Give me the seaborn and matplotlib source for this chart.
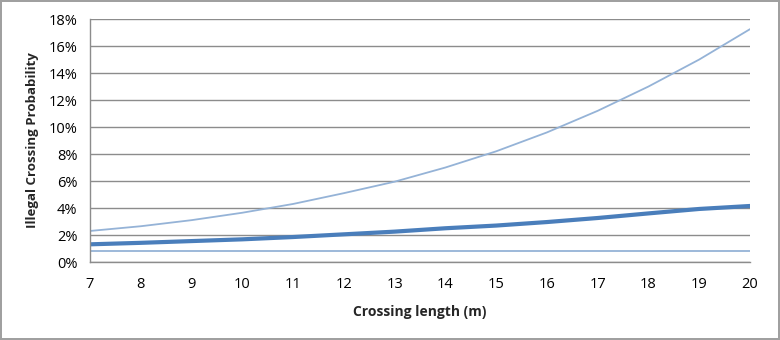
import matplotlib
matplotlib.use('Agg')
import matplotlib.pyplot as plt
import seaborn as sns
import pandas as pd
from matplotlib.ticker import FuncFormatter

# crossing length (m)
length = [7, 8, 9, 10, 11, 12, 13, 14, 15, 16, 17, 18, 19, 20]
# illegal crossing probability (%)
upper = [2.3, 2.65, 3.1, 3.65, 4.3, 5.1, 5.95, 7.0, 8.2, 9.6, 11.2, 13.0, 15.0, 17.25]
mean = [1.31, 1.42, 1.55, 1.68, 1.85, 2.05, 2.25, 2.5, 2.7, 2.96, 3.26, 3.6, 3.93, 4.15]
lower = [0.78, 0.78, 0.78, 0.78, 0.78, 0.78, 0.78, 0.78, 0.78, 0.78, 0.78, 0.78, 0.78, 0.78]

df = pd.DataFrame({'length': length, 'upper': upper, 'mean': mean, 'lower': lower})

sns.set_style('white')
plt.rcParams['font.family'] = ['Open Sans', 'DejaVu Sans']

fig = plt.figure(figsize=(7.8, 3.4), dpi=100)
fig.patch.set_edgecolor('#a0a0a0')
fig.patch.set_linewidth(1.5)
ax = fig.add_axes([0.1154, 0.2294, 0.8461, 0.7146])

sns.lineplot(data=df, x='length', y='upper', ax=ax, color='#95b3d7', linewidth=1.3)
sns.lineplot(data=df, x='length', y='lower', ax=ax, color='#95b3d7', linewidth=1.3)
sns.lineplot(data=df, x='length', y='mean', ax=ax, color='#4a7ebb', linewidth=3)

ax.set_xlim(7, 20)
ax.set_ylim(0, 18)
ax.set_xticks(length)
ax.set_yticks(range(0, 19, 2))
ax.yaxis.set_major_formatter(FuncFormatter(lambda v, p: f'{v:.0f}%'))
ax.grid(axis='y', color='#8c8c8c', linewidth=1)
ax.set_axisbelow(True)
for s in ['top', 'right']:
    ax.spines[s].set_visible(False)
for s in ['left', 'bottom']:
    ax.spines[s].set_color('#8c8c8c')
    ax.spines[s].set_linewidth(1)
ax.tick_params(axis='both', length=0, labelsize=10.5, colors='black')
ax.tick_params(axis='x', pad=11)
ax.tick_params(axis='y', pad=9)

ax.set_xlabel('Crossing length (m)', fontsize=10, fontweight='bold', labelpad=9)
ax.set_ylabel('Illegal Crossing Probability', fontsize=9.5, fontweight='bold', labelpad=7)

fig.savefig('out.png', dpi=100)
plt.close(fig)
